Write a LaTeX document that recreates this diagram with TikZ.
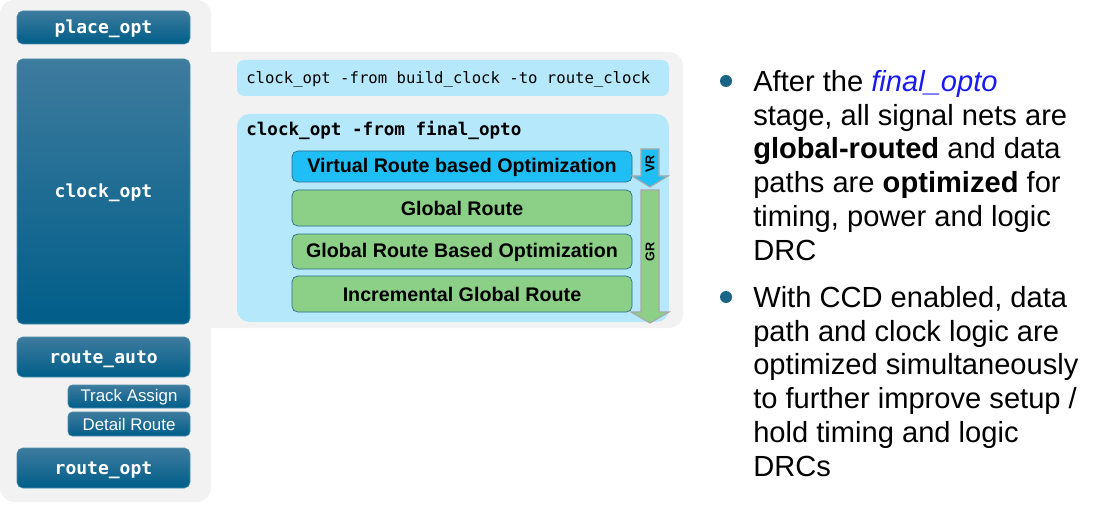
\documentclass[tikz,border=0pt]{standalone}
\usepackage{fontspec}
\setmainfont{Liberation Sans}
\newfontfamily\codefont{DejaVu Sans Mono}

\definecolor{panelgray}{HTML}{F2F2F2}
\definecolor{stagetop}{HTML}{3E7B9E}
\definecolor{stagebot}{HTML}{005E89}
\definecolor{cmdblue}{HTML}{B5E8FB}
\definecolor{vrblue}{HTML}{1FBEF4}
\definecolor{grgreen}{HTML}{8CCF87}
\definecolor{stepedge}{HTML}{2A6F8C}
\definecolor{arrowedge}{HTML}{A8A8A8}
\definecolor{dotblue}{HTML}{1A6488}
\definecolor{optoblue}{HTML}{1A1AF0}

\tikzset{
  stagebox/.style={top color=stagetop, bottom color=stagebot, draw=stagebot!70!white, line width=0.4pt, rounded corners=4pt},
  stagelabel/.style={text=white, inner sep=0pt, font=\codefont\bfseries\fontsize{12.8}{15}\selectfont},
  sublabel/.style={text=white, inner sep=0pt, font=\fontsize{12}{14}\selectfont},
  cmdbox/.style={fill=cmdblue, rounded corners=5pt},
  stepbox/.style={draw=stepedge, line width=0.5pt, rounded corners=4pt},
  steplabel/.style={inner sep=0pt, font=\bfseries\fontsize{14}{16}\selectfont},
  blockarrow/.style={draw=arrowedge, line width=0.8pt, line join=miter},
  bullettext/.style={anchor=north west, inner sep=0pt, align=left, font=\fontsize{20.7}{24}\selectfont}
}

\begin{document}
\begin{tikzpicture}[x=0.025cm, y=-0.025cm]
\useasboundingbox (0,0) rectangle (1097,505);
% gray backdrop
\fill [panelgray, rounded corners=10pt] (200,52) rectangle (683,328);
\fill [panelgray, rounded corners=10pt] (0,0) rectangle (211,502);
% flow stages
\draw [stagebox] (17,11) rectangle (190,44);
\node [stagelabel] (placeopt) at (103.5,29) {place\_opt};
\draw [stagebox] (17,59) rectangle (190,324);
\node [stagelabel] (clockopt) at (103.5,193) {clock\_opt};
\draw [stagebox] (17,337) rectangle (190,377);
\node [stagelabel] (routeauto) at (103.5,359) {route\_auto};
\draw [stagebox, rounded corners=3pt] (68,385) rectangle (190,408);
\node [sublabel] (trackassign) at (129,397.5) {Track Assign};
\draw [stagebox, rounded corners=3pt] (68,412) rectangle (190,436);
\node [sublabel] (detailroute) at (129,424) {Detail Route};
\draw [stagebox] (17,448) rectangle (190,488);
\node [stagelabel] (routeopt) at (103.5,470) {route\_opt};
% clock_opt commands
\fill [cmdbox] (237,60) rectangle (669,96);
\node [anchor=west, inner sep=0pt, font=\codefont\fontsize{11.1}{13}\selectfont] (cmdbuild) at (246,79) {clock\_opt -from build\_clock -to route\_clock};
\fill [cmdbox, rounded corners=9pt] (237,114) rectangle (669,322);
\node [anchor=west, inner sep=0pt, font=\codefont\bfseries\fontsize{12.5}{15}\selectfont] (cmdfinal) at (246,130) {clock\_opt -from final\_opto};
% final_opto steps
\draw [stepbox, fill=vrblue] (292,151) rectangle (632,182);
\node [steplabel] (vropt) at (462,167) {Virtual Route based Optimization};
\draw [stepbox, fill=grgreen] (292,190) rectangle (632,226);
\node [steplabel] (groute) at (462,208) {Global Route};
\draw [stepbox, fill=grgreen] (292,234) rectangle (632,269);
\node [steplabel] (gropt) at (462,252) {Global Route Based Optimization};
\draw [stepbox, fill=grgreen] (292,276) rectangle (632,312);
\node [steplabel] (incgr) at (462,294) {Incremental Global Route};
% VR / GR arrows
\draw [blockarrow, fill=vrblue] (641,149) -- (659,149) -- (659,176) -- (668,176) -- (650,187) -- (632,176) -- (641,176) -- cycle;
\node [rotate=90, inner sep=0pt, font=\bfseries\fontsize{9}{10}\selectfont] (vrtag) at (650,164) {VR};
\draw [blockarrow, fill=grgreen] (641,190) -- (659,190) -- (659,312) -- (669,312) -- (650,323) -- (631,312) -- (641,312) -- cycle;
\node [rotate=90, inner sep=0pt, font=\bfseries\fontsize{9}{10}\selectfont] (grtag) at (650,252) {GR};
% notes
\fill [dotblue] (726,81) circle (6);
\node [bullettext] (noteone) at (753,70) {After the \textcolor{optoblue}{\textit{final\_opto}}\\
stage, all signal nets are\\
\textbf{global-routed} and data\\
paths are \textbf{optimized} for\\
timing, power and logic\\
DRC};
\fill [dotblue] (726,297) circle (6);
\node [bullettext] (notetwo) at (753,286) {With CCD enabled, data\\
path and clock logic are\\
optimized simultaneously\\
to further improve setup /\\
hold timing and logic\\
DRCs};
\end{tikzpicture}
\end{document}
